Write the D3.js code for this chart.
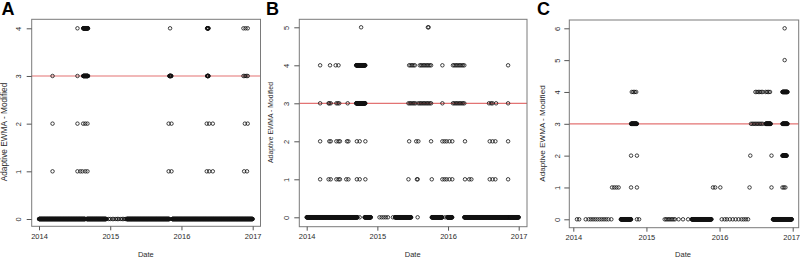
<!DOCTYPE html>
<html>
<head>
<meta charset="utf-8">
<script src="https://cdn.jsdelivr.net/npm/d3@7/dist/d3.min.js"></script>
<style>
    body { margin: 0; background: #fff; }
    svg { display: block; font-family: "Liberation Sans", Arial, sans-serif; }
</style>
</head>
<body>
<svg id="chart" width="800" height="258"></svg>
<script>
// x tick labels (years) shared by all panels
const yearTicks = [2014, 2015, 2016, 2017];
const threshold = 3;

// ---- panel A ----
const aTicksY = [0, 1, 2, 3, 4];
// single readings: [decimal year, value]
const aPoints = [
    [2014.54, 4], [2015.84, 4], [2016.87, 4], [2016.90, 4], [2016.93, 4],
    [2014.19, 3], [2014.54, 3], [2016.87, 3], [2016.89, 3], [2016.91, 3], [2016.93, 3],
    [2014.19, 2], [2014.54, 2], [2014.62, 2], [2014.65, 2], [2014.68, 2], [2015.82, 2], [2015.86, 2],
    [2016.355, 2], [2016.39, 2], [2016.44, 2], [2016.89, 2], [2016.93, 2],
    [2014.19, 1], [2014.54, 1], [2014.58, 1], [2014.61, 1], [2014.65, 1], [2014.68, 1],
    [2015.82, 1], [2015.86, 1], [2016.355, 1], [2016.39, 1], [2016.44, 1], [2016.88, 1], [2016.92, 1],
    [2014.95, 0], [2014.98, 0], [2015.00, 0], [2015.03, 0], [2015.05, 0], [2015.08, 0],
    [2015.10, 0], [2015.12, 0], [2015.15, 0], [2015.17, 0], [2015.19, 0], [2015.21, 0]
];
// stretches of daily readings: [from, to, value]
const aRuns = [
    [2014.00, 2014.65, 0], [2014.67, 2014.94, 0], [2015.23, 2015.83, 0], [2015.87, 2017.00, 0],
    [2014.62, 2014.69, 4], [2016.36, 2016.38, 4],
    [2014.62, 2014.69, 3], [2015.83, 2015.86, 3], [2016.36, 2016.38, 3]
];

// ---- panel B ----
const bTicksY = [0, 1, 2, 3, 4, 5];
const bPoints = [
    [2014.77, 5], [2015.715, 5], [2015.725, 5],
    [2014.19, 4], [2014.33, 4], [2014.41, 4], [2014.45, 4],
    [2015.45, 4], [2015.47, 4], [2015.49, 4], [2015.51, 4], [2015.53, 4],
    [2015.60, 4], [2015.62, 4], [2015.64, 4], [2015.66, 4], [2015.68, 4], [2015.70, 4], [2015.72, 4], [2015.74, 4], [2015.76, 4],
    [2015.92, 4],
    [2016.07, 4], [2016.09, 4], [2016.11, 4], [2016.13, 4], [2016.15, 4], [2016.17, 4], [2016.19, 4], [2016.21, 4], [2016.23, 4],
    [2016.85, 4],
    [2014.19, 3], [2014.31, 3], [2014.32, 3], [2014.34, 3], [2014.42, 3], [2014.44, 3], [2014.46, 3], [2014.58, 3],
    [2015.44, 3], [2015.46, 3], [2015.48, 3], [2015.50, 3], [2015.52, 3], [2015.54, 3],
    [2015.58, 3], [2015.60, 3], [2015.62, 3], [2015.64, 3], [2015.66, 3], [2015.68, 3], [2015.70, 3], [2015.72, 3], [2015.74, 3], [2015.76, 3],
    [2015.92, 3],
    [2016.07, 3], [2016.09, 3], [2016.11, 3], [2016.13, 3], [2016.15, 3], [2016.17, 3], [2016.19, 3], [2016.21, 3], [2016.23, 3],
    [2016.58, 3], [2016.61, 3], [2016.63, 3], [2016.68, 3], [2016.85, 3],
    [2014.19, 2], [2014.32, 2], [2014.34, 2], [2014.42, 2], [2014.45, 2], [2014.47, 2], [2014.57, 2], [2014.59, 2],
    [2014.71, 2], [2014.75, 2], [2014.83, 2], [2015.45, 2], [2015.55, 2], [2015.58, 2], [2015.76, 2],
    [2015.92, 2], [2015.95, 2], [2015.98, 2], [2016.02, 2], [2016.06, 2], [2016.24, 2],
    [2016.59, 2], [2016.63, 2], [2016.67, 2], [2016.85, 2],
    [2014.19, 1], [2014.31, 1], [2014.34, 1], [2014.42, 1], [2014.45, 1], [2014.47, 1], [2014.56, 1], [2014.59, 1],
    [2014.71, 1], [2014.75, 1], [2014.83, 1], [2015.44, 1], [2015.56, 1], [2015.57, 1], [2015.77, 1],
    [2015.92, 1], [2015.95, 1], [2015.98, 1], [2016.02, 1], [2016.06, 1], [2016.24, 1], [2016.30, 1], [2016.33, 1],
    [2016.59, 1], [2016.63, 1], [2016.67, 1], [2016.85, 1],
    [2014.75, 0], [2015.03, 0], [2015.06, 0], [2015.09, 0], [2015.12, 0], [2015.15, 0], [2015.22, 0],
    [2015.57, 0], [2015.96, 0]
];
const bRuns = [
    [2014.00, 2014.72, 0], [2014.82, 2014.91, 0], [2015.25, 2015.48, 0], [2015.77, 2015.92, 0],
    [2015.99, 2016.06, 0], [2016.23, 2017.00, 0],
    [2014.70, 2014.83, 4], [2014.70, 2014.83, 3]
];

// ---- panel C ----
const cTicksY = [0, 1, 2, 3, 4, 5, 6];
const cPoints = [
    [2016.89, 6], [2016.89, 5],
    [2014.80, 4], [2014.82, 4], [2014.84, 4], [2014.86, 4],
    [2016.49, 4], [2016.51, 4], [2016.53, 4], [2016.55, 4], [2016.57, 4], [2016.59, 4],
    [2016.63, 4], [2016.65, 4], [2016.67, 4], [2016.69, 4],
    [2016.43, 3], [2016.45, 3], [2016.47, 3], [2016.49, 3], [2016.51, 3], [2016.53, 3], [2016.55, 3], [2016.57, 3], [2016.59, 3],
    [2014.79, 2], [2014.87, 2], [2016.42, 2], [2016.71, 2],
    [2014.53, 1], [2014.56, 1], [2014.59, 1], [2014.62, 1], [2014.79, 1], [2014.87, 1],
    [2015.91, 1], [2015.94, 1], [2016.01, 1], [2016.41, 1], [2016.71, 1], [2016.86, 1], [2016.88, 1], [2016.90, 1],
    [2014.05, 0], [2014.08, 0],
    [2014.17, 0], [2014.21, 0], [2014.24, 0], [2014.27, 0], [2014.30, 0], [2014.33, 0],
    [2014.36, 0], [2014.39, 0], [2014.42, 0], [2014.45, 0], [2014.48, 0], [2014.52, 0],
    [2014.87, 0], [2014.90, 0],
    [2015.25, 0], [2015.27, 0], [2015.29, 0], [2015.31, 0], [2015.33, 0], [2015.35, 0], [2015.37, 0], [2015.39, 0],
    [2015.44, 0], [2015.50, 0], [2015.57, 0],
    [2016.03, 0], [2016.07, 0], [2016.10, 0], [2016.14, 0], [2016.18, 0], [2016.22, 0],
    [2016.26, 0], [2016.30, 0], [2016.33, 0], [2016.36, 0], [2016.39, 0]
];
const cRuns = [
    [2014.65, 2014.79, 0], [2015.62, 2015.89, 0], [2016.73, 2016.99, 0],
    [2016.86, 2016.93, 4],
    [2014.79, 2014.87, 3], [2016.63, 2016.70, 3], [2016.86, 2016.93, 3],
    [2016.86, 2016.92, 2]
];

// pixel layout of each panel (the composite figure has slightly different panels)
const panels = [
    { id: 'A', points: aPoints, runs: aRuns, ticksY: aTicksY,
      box: [31.7, 19.3, 260.5, 226.3], x: [39, 252.7], y: [219, 28.3],
      letter: [1.5, 15], yLabelX: 20.5, yTitle: [4, 132, 8.3] },
    { id: 'B', points: bPoints, runs: bRuns, ticksY: bTicksY,
      box: [299.3, 19.3, 527, 226.7], x: [306.7, 518.7], y: [217.3, 27.3],
      letter: [266, 15], yLabelX: 289, yTitle: [271, 122.5, 6.8] },
    { id: 'C', points: cPoints, runs: cRuns, ticksY: cTicksY,
      box: [569.3, 20, 798.7, 227.7], x: [573.3, 792.7], y: [219.3, 28.3],
      letter: [537, 15], yLabelX: 559.5, yTitle: [542, 133.5, 8.1] }
];

const svg = d3.select('#chart');
const W = +svg.attr('width');
const tickColor = '#555';
const textColor = '#2b2b2b';
const tickFont = '7.5px';

function expandRuns(runs) {
    // each run stands for consecutive daily readings at one value
    const out = [];
    runs.forEach(([from, to, v]) => {
        d3.range(from, to + 1e-9, 1 / 365).forEach(t => out.push([t, v]));
    });
    return out;
}

panels.forEach(p => {
    const [l, t, r, b] = p.box;
    const x = d3.scaleLinear().domain([2014, 2017]).range(p.x);
    const yMax = d3.max(p.ticksY);
    const y = d3.scaleLinear().domain([0, yMax]).range(p.y);
    const g = svg.append('g').attr('class', `panel panel-${p.id}`);

    // threshold line across the whole plot box
    g.append('line')
        .attr('x1', l).attr('x2', r)
        .attr('y1', y(threshold)).attr('y2', y(threshold))
        .attr('stroke', '#de5a5a')
        .attr('stroke-opacity', 0.85)
        .attr('stroke-width', 1.2);

    const data = expandRuns(p.runs).concat(p.points);
    g.append('g')
        .selectAll('circle')
        .data(data)
        .enter()
        .append('circle')
        .attr('cx', d => x(d[0]))
        .attr('cy', d => y(d[1]))
        .attr('r', 1.75)
        .attr('fill', 'none')
        .attr('stroke', '#111')
        .attr('stroke-width', 0.8);

    // box
    g.append('rect')
        .attr('x', l).attr('y', t)
        .attr('width', r - l).attr('height', b - t)
        .attr('fill', 'none')
        .attr('stroke', '#7a7a7a')
        .attr('stroke-width', 1);

    // x axis
    const xAxis = d3.axisBottom(x)
        .tickValues(yearTicks)
        .tickFormat(d3.format('d'))
        .tickSize(4)
        .tickPadding(3);
    const gx = g.append('g')
        .attr('transform', `translate(0,${b})`)
        .call(xAxis);
    gx.select('.domain').remove();
    gx.selectAll('line').attr('stroke', tickColor);
    gx.selectAll('text')
        .attr('fill', textColor)
        .style('font-size', tickFont)
        .style('font-family', '"Liberation Sans", Arial, sans-serif')
        .each(function (d) {
            // keep the last label inside the picture
            const half = this.getComputedTextLength() / 2;
            const over = x(d) + half - (W - 0.5);
            if (over > 0) d3.select(this).attr('x', -over);
        });

    // y axis
    const yAxis = d3.axisLeft(y)
        .tickValues(p.ticksY)
        .tickFormat(d3.format('d'))
        .tickSize(5);
    const gy = g.append('g')
        .attr('transform', `translate(${l},0)`)
        .call(yAxis);
    gy.select('.domain').remove();
    gy.selectAll('line').attr('stroke', tickColor);
    gy.selectAll('text')
        .attr('x', null).attr('dy', null)
        .attr('text-anchor', 'middle')
        .attr('fill', textColor)
        .style('font-size', tickFont)
        .style('font-family', '"Liberation Sans", Arial, sans-serif')
        .attr('transform', `translate(${p.yLabelX - l},0) rotate(-90)`);

    // titles
    g.append('text')
        .attr('x', (p.x[0] + p.x[1]) / 2)
        .attr('y', 256.5)
        .attr('text-anchor', 'middle')
        .attr('fill', textColor)
        .style('font-size', tickFont)
        .text('Date');

    g.append('text')
        .attr('transform', `translate(${p.yTitle[0]},${p.yTitle[1]}) rotate(-90)`)
        .attr('dy', '0.35em')
        .attr('text-anchor', 'middle')
        .attr('fill', textColor)
        .style('font-size', `${p.yTitle[2]}px`)
        .text('Adaptive EWMA - Modified');

    g.append('text')
        .attr('x', p.letter[0])
        .attr('y', p.letter[1])
        .attr('font-weight', 'bold')
        .style('font-size', '18px')
        .attr('fill', '#000')
        .text(p.id);
});
</script>
</body>
</html>
